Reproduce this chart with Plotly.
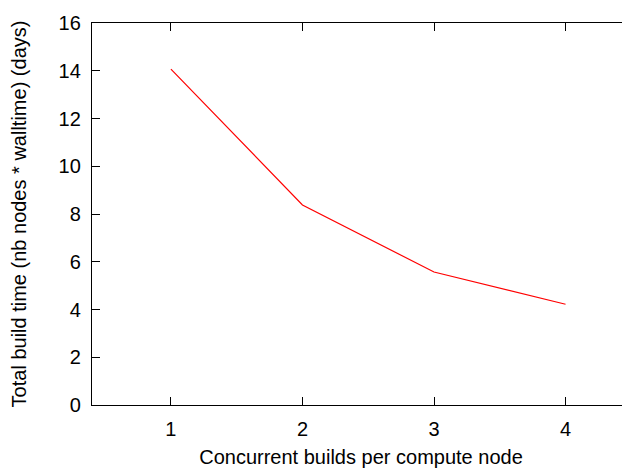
import plotly.graph_objects as go

builds = [1, 2, 3, 4]
days = [14.07, 8.38, 5.57, 4.22]

fig = go.Figure()
fig.add_trace(go.Scatter(x=builds, y=days, mode="lines",
                         line=dict(color="#ff0000", width=1.2), showlegend=False))

font = dict(family="Liberation Sans, Arial, sans-serif", size=20, color="black")
fig.update_layout(
    width=622, height=462,
    margin=dict(l=84, r=0, t=15, b=65),
    paper_bgcolor="white", plot_bgcolor="white",
    font=font,
)
fig.update_xaxes(
    range=[0.4, 4.49], tickvals=[1, 2, 3, 4], ticks="inside", ticklen=8,
    tickcolor="black", showline=True, linecolor="black", linewidth=1.3,
    mirror="allticks", showgrid=False, zeroline=False, tickfont=font,
    automargin=False, ticklabelstandoff=6,
    title=dict(text="Concurrent builds per compute node", standoff=10, font=font),
)
fig.update_yaxes(
    range=[0, 16], tickvals=list(range(0, 17, 2)), ticks="inside", ticklen=8,
    tickcolor="black", showline=True, linecolor="black", linewidth=1.3,
    mirror="allticks", showgrid=False, zeroline=False, tickfont=font,
    automargin=False, ticklabelstandoff=6,
    title=dict(text="Total build time (nb nodes * walltime) (days)", standoff=27, font=font),
)
fig.write_html("out.html")
